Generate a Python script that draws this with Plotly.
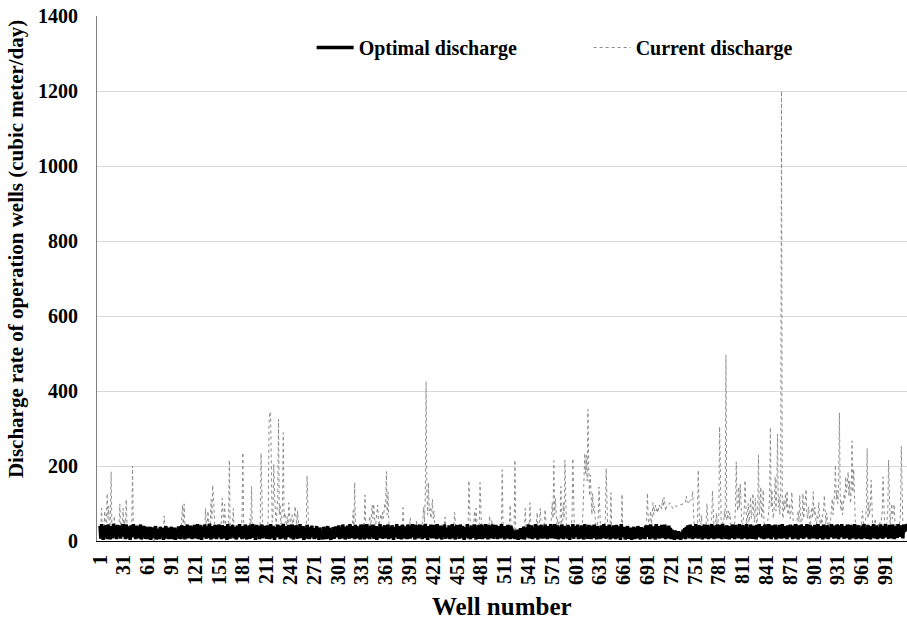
import plotly.graph_objects as go

# Well numbers 1..1020
wells = list(range(1, 1021))

# Current discharge (cubic meter/day), wells 1..1020 (rows of 30)
current_discharge = [
    20, 35, 87, 25, 40, 15, 80, 30, 45, 127, 60, 93, 20, 50, 185, 30, 40, 10, 67, 25, 35, 15, 40, 20, 45, 99, 30, 50, 25, 87,
    40, 55, 30, 111, 45, 20, 35, 10, 30, 25, 40, 200, 30, 15, 35, 20, 10, 25, 30, 15, 20, 35, 10, 25, 15, 30, 20, 10, 25, 15,
    10, 20, 5, 25, 15, 30, 10, 20, 0, 15, 25, 10, 20, 5, 30, 15, 20, 10, 25, 30, 40, 67, 35, 20, 10, 25, 15, 30, 10, 20,
    25, 15, 30, 10, 20, 35, 15, 25, 10, 30, 20, 40, 25, 50, 96, 45, 99, 40, 30, 15, 25, 35, 10, 20, 30, 15, 25, 40, 20, 30,
    15, 35, 20, 40, 25, 10, 30, 45, 20, 35, 15, 40, 30, 87, 45, 30, 80, 35, 20, 50, 111, 60, 149, 120, 40, 25, 35, 15, 30, 20,
    25, 40, 30, 55, 114, 50, 35, 98, 45, 20, 35, 25, 50, 216, 40, 30, 20, 45, 87, 30, 15, 35, 25, 40, 20, 30, 45, 25, 35, 60,
    236, 50, 30, 20, 40, 25, 35, 15, 30, 60, 40, 145, 35, 20, 30, 45, 25, 15, 35, 20, 30, 40, 50, 234, 45, 30, 20, 35, 40, 25,
    40, 30, 60, 310, 345, 340, 90, 50, 70, 205, 127, 60, 40, 80, 110, 324, 70, 98, 45, 60, 90, 289, 60, 76, 50, 40, 65, 45, 102, 55,
    40, 60, 70, 45, 55, 65, 93, 50, 40, 80, 45, 25, 35, 20, 30, 15, 25, 35, 20, 30, 40, 174, 30, 20, 35, 15, 25, 10, 30, 20,
    15, 30, 10, 25, 20, 35, 15, 5, 25, 30, 10, 20, 35, 15, 25, 10, 30, 20, 5, 25, 15, 35, 20, 10, 30, 15, 25, 35, 20, 10,
    25, 15, 30, 10, 20, 35, 15, 25, 10, 30, 20, 35, 15, 25, 40, 20, 30, 45, 35, 81, 40, 156, 35, 25, 40, 20, 30, 45, 25, 35,
    40, 25, 50, 35, 123, 40, 30, 45, 25, 50, 67, 40, 55, 96, 60, 99, 45, 30, 55, 70, 96, 50, 40, 60, 72, 55, 76, 60, 80, 99,
    90, 185, 70, 131, 50, 35, 20, 40, 25, 15, 30, 20, 35, 10, 25, 40, 20, 30, 15, 35, 45, 30, 89, 35, 20, 30, 15, 25, 35, 20,
    30, 62, 25, 40, 15, 30, 20, 35, 25, 55, 30, 15, 35, 20, 40, 25, 45, 60, 91, 50, 120, 425, 130, 70, 156, 80, 90, 60, 75, 111,
    60, 80, 40, 25, 35, 15, 30, 20, 10, 25, 35, 15, 30, 20, 40, 64, 30, 15, 25, 35, 10, 30, 20, 35, 15, 25, 40, 76, 30, 20,
    35, 15, 25, 40, 20, 30, 10, 25, 35, 20, 30, 15, 40, 25, 45, 161, 40, 25, 35, 20, 45, 35, 80, 40, 87, 30, 20, 45, 35, 156,
    40, 25, 35, 15, 30, 20, 40, 25, 35, 45, 30, 67, 40, 30, 56, 25, 35, 15, 30, 20, 35, 10, 25, 40, 20, 30, 50, 190, 40, 25,
    35, 20, 30, 15, 40, 25, 45, 96, 40, 20, 30, 15, 40, 216, 30, 20, 10, 25, 15, 30, 20, 35, 10, 25, 40, 30, 87, 40, 25, 35,
    50, 40, 102, 45, 30, 20, 35, 25, 40, 30, 45, 76, 35, 40, 55, 87, 40, 30, 20, 35, 45, 84, 40, 25, 30, 15, 35, 20, 40, 60,
    102, 60, 214, 70, 114, 50, 35, 60, 40, 25, 55, 146, 40, 30, 102, 60, 216, 45, 30, 20, 35, 25, 40, 30, 45, 60, 220, 40, 25, 35,
    20, 35, 15, 30, 25, 40, 20, 35, 50, 90, 150, 234, 180, 229, 160, 351, 200, 120, 176, 90, 70, 127, 80, 93, 50, 40, 30, 45, 60, 144,
    40, 25, 35, 20, 30, 45, 35, 60, 194, 40, 25, 35, 15, 40, 129, 30, 20, 35, 10, 25, 15, 30, 20, 35, 10, 25, 40, 30, 125, 20,
    35, 15, 25, 10, 30, 20, 35, 15, 25, 5, 30, 20, 10, 25, 35, 15, 30, 20, 10, 25, 35, 20, 30, 15, 25, 40, 20, 30, 45, 60,
    128, 60, 40, 50, 80, 45, 60, 102, 70, 85, 96, 80, 90, 75, 85, 96, 90, 95, 85, 111, 95, 116, 100, 80, 92, 95, 94, 96, 102, 98,
    95, 90, 87, 92, 93, 94, 92, 93, 94, 95, 96, 96, 97, 97, 98, 99, 99, 100, 102, 120, 104, 105, 99, 106, 108, 110, 112, 133, 60, 40,
    30, 45, 25, 40, 189, 35, 20, 30, 69, 40, 25, 35, 15, 30, 45, 100, 40, 25, 35, 20, 45, 60, 134, 40, 30, 20, 45, 75, 35, 50,
    70, 305, 60, 45, 30, 50, 40, 80, 60, 496, 55, 70, 80, 60, 75, 45, 30, 40, 25, 35, 45, 90, 211, 100, 80, 144, 90, 153, 70, 50,
    40, 60, 80, 162, 70, 45, 60, 100, 50, 70, 118, 60, 80, 127, 70, 50, 113, 45, 30, 80, 229, 70, 90, 144, 60, 80, 136, 50, 40, 30,
    45, 35, 60, 80, 120, 303, 90, 136, 70, 60, 100, 171, 80, 130, 285, 90, 118, 70, 140, 1200, 80, 60, 109, 80, 127, 90, 134, 70, 80, 100,
    60, 80, 131, 70, 40, 30, 45, 25, 40, 60, 80, 50, 122, 70, 40, 60, 127, 60, 80, 100, 138, 70, 60, 91, 50, 40, 70, 90, 60, 131,
    70, 90, 60, 45, 70, 60, 104, 50, 35, 60, 45, 70, 80, 122, 60, 45, 75, 40, 30, 50, 40, 60, 80, 113, 70, 100, 130, 203, 110, 136,
    100, 150, 342, 120, 80, 109, 70, 90, 127, 110, 171, 130, 150, 184, 120, 160, 100, 140, 267, 130, 191, 80, 50, 35, 45, 25, 40, 30, 45, 35,
    50, 80, 40, 30, 45, 60, 90, 247, 60, 104, 70, 90, 162, 50, 35, 45, 30, 60, 40, 25, 35, 45, 30, 50, 40, 60, 80, 171, 50, 35,
    45, 30, 55, 80, 216, 60, 40, 70, 100, 60, 80, 98, 50, 35, 45, 30, 40, 25, 50, 70, 253, 60, 40, 30, 45, 35, 25, 40, 30, 45,
]

# Optimal discharge (cubic meter/day), wells 1..1020 (rows of 30)
optimal_discharge = [
    40, 6, 45, 18, 3, 38, 12, 42, 22, 5, 44, 15, 35, 4, 40, 26, 7, 46, 20, 10, 38, 5, 43, 28, 12, 41, 6, 36, 22, 45,
    12, 40, 5, 44, 24, 7, 39, 18, 3, 42, 32, 10, 45, 15, 30, 5, 41, 23, 7, 37, 20, 44, 4, 33, 12, 40, 25, 6, 38, 16,
    5, 35, 10, 38, 3, 30, 16, 36, 7, 25, 40, 4, 33, 14, 28, 5, 38, 11, 20, 35, 3, 30, 12, 40, 7, 25, 36, 5, 32, 18,
    38, 5, 28, 11, 36, 3, 32, 20, 7, 39, 15, 30, 5, 42, 23, 10, 40, 4, 35, 18, 44, 7, 30, 12, 41, 20, 5, 37, 11, 43,
    7, 40, 18, 45, 5, 33, 15, 42, 3, 38, 24, 10, 44, 19, 6, 39, 28, 8, 46, 22, 4, 40, 14, 36, 7, 43, 26, 5, 41, 16,
    44, 10, 36, 5, 42, 23, 7, 40, 15, 30, 3, 45, 20, 35, 6, 39, 12, 43, 26, 7, 37, 18, 4, 41, 24, 10, 45, 15, 33, 5,
    40, 20, 7, 44, 28, 4, 38, 12, 42, 6, 35, 22, 45, 8, 39, 16, 3, 43, 25, 11, 41, 5, 36, 19, 44, 7, 30, 14, 40, 23,
    6, 42, 15, 36, 5, 45, 24, 8, 40, 18, 3, 38, 27, 10, 44, 14, 35, 5, 41, 21, 7, 46, 16, 33, 4, 40, 26, 11, 43, 19,
    36, 7, 44, 18, 4, 39, 11, 42, 25, 6, 37, 20, 45, 8, 32, 15, 40, 3, 35, 22, 7, 43, 12, 38, 5, 30, 18, 41, 10, 24,
    5, 34, 14, 40, 7, 28, 3, 36, 11, 30, 20, 4, 38, 10, 32, 5, 24, 40, 7, 35, 15, 3, 30, 18, 37, 6, 22, 39, 10, 33,
    12, 42, 5, 36, 22, 7, 44, 15, 38, 4, 30, 10, 41, 20, 6, 45, 26, 8, 40, 18, 35, 5, 43, 14, 25, 7, 39, 23, 4, 44,
    30, 10, 43, 4, 36, 19, 45, 7, 38, 15, 5, 41, 24, 11, 44, 6, 33, 18, 40, 3, 37, 21, 8, 45, 12, 39, 6, 34, 20, 42,
    7, 40, 15, 44, 5, 35, 23, 8, 42, 16, 3, 38, 26, 10, 45, 19, 6, 40, 12, 36, 4, 43, 22, 7, 39, 14, 30, 5, 44, 18,
    41, 6, 36, 20, 45, 10, 30, 4, 43, 15, 39, 7, 25, 44, 12, 35, 5, 42, 22, 8, 46, 16, 33, 3, 40, 24, 11, 44, 7, 37,
    8, 43, 18, 38, 5, 45, 14, 32, 7, 41, 22, 4, 39, 11, 44, 19, 6, 36, 26, 10, 42, 5, 34, 16, 45, 7, 40, 21, 4, 38,
    42, 12, 35, 6, 44, 23, 8, 40, 16, 3, 37, 26, 11, 45, 7, 33, 19, 5, 41, 14, 38, 8, 44, 22, 4, 36, 15, 42, 6, 30,
    15, 44, 5, 39, 20, 8, 45, 12, 35, 4, 42, 25, 7, 38, 18, 44, 6, 31, 11, 43, 22, 5, 40, 15, 36, 7, 45, 19, 10, 39,
    4, 40, 22, 7, 43, 14, 36, 5, 41, 18, 32, 7, 28, 5, 24, 11, 30, 3, 26, 7, 34, 5, 22, 12, 38, 4, 28, 10, 36, 18,
    44, 7, 37, 16, 42, 5, 35, 23, 8, 45, 15, 30, 4, 41, 20, 10, 43, 6, 38, 24, 7, 44, 12, 33, 5, 40, 19, 8, 45, 15,
    7, 39, 20, 45, 6, 34, 14, 42, 4, 37, 24, 8, 44, 18, 5, 40, 11, 36, 26, 7, 43, 15, 3, 38, 22, 10, 45, 6, 32, 18,
    40, 10, 44, 5, 36, 21, 7, 42, 15, 31, 4, 45, 12, 38, 23, 6, 43, 16, 35, 5, 41, 25, 8, 44, 11, 37, 4, 40, 20, 7,
    36, 5, 42, 18, 8, 45, 14, 33, 6, 40, 23, 10, 44, 4, 38, 19, 7, 42, 12, 35, 5, 43, 26, 8, 39, 15, 3, 45, 20, 30,
    10, 38, 4, 32, 15, 40, 6, 28, 20, 36, 3, 30, 11, 38, 5, 24, 34, 7, 40, 12, 29, 4, 37, 18, 7, 35, 22, 5, 41, 15,
    42, 11, 36, 5, 44, 20, 7, 39, 15, 33, 4, 45, 24, 10, 40, 6, 37, 18, 43, 8, 30, 12, 44, 5, 38, 22, 7, 41, 16, 35,
    5, 30, 12, 25, 3, 28, 7, 22, 5, 26, 10, 20, 3, 24, 7, 30, 15, 34, 5, 38, 11, 42, 18, 7, 44, 14, 36, 5, 40, 23,
    8, 45, 16, 38, 6, 42, 22, 10, 40, 4, 35, 19, 44, 7, 33, 14, 43, 5, 39, 24, 8, 45, 11, 37, 5, 41, 20, 7, 44, 15,
    38, 7, 43, 18, 5, 45, 12, 36, 22, 6, 42, 15, 34, 4, 40, 25, 8, 44, 16, 31, 5, 43, 20, 10, 39, 7, 45, 14, 35, 5,
    42, 20, 8, 40, 14, 45, 5, 36, 23, 7, 44, 16, 33, 6, 41, 11, 38, 4, 43, 24, 10, 45, 15, 30, 7, 40, 19, 5, 44, 12,
    7, 39, 22, 45, 8, 35, 5, 42, 15, 30, 10, 44, 4, 37, 20, 7, 43, 12, 38, 6, 45, 23, 8, 40, 16, 34, 5, 42, 18, 10,
    44, 14, 33, 5, 41, 21, 7, 45, 11, 38, 4, 42, 25, 8, 44, 15, 32, 6, 40, 19, 10, 45, 12, 36, 5, 43, 23, 7, 39, 18,
    7, 43, 16, 36, 5, 45, 20, 8, 40, 12, 34, 4, 44, 24, 7, 38, 15, 42, 5, 35, 21, 10, 45, 14, 39, 6, 41, 18, 8, 44,
    37, 5, 42, 22, 10, 45, 12, 33, 6, 40, 18, 8, 44, 15, 36, 4, 43, 25, 7, 39, 11, 45, 19, 5, 38, 14, 42, 7, 35, 22,
    5, 41, 15, 45, 8, 34, 20, 6, 43, 12, 38, 4, 40, 24, 10, 45, 7, 31, 18, 42, 5, 37, 22, 8, 44, 15, 35, 6, 40, 20,
    45, 10, 38, 18, 6, 43, 14, 36, 7, 44, 23, 5, 40, 16, 33, 8, 45, 20, 11, 42, 15, 38, 7, 44, 24, 40, 28, 45, 36, 44,
]

x_tick_values = list(range(1, 1021, 30))
y_tick_values = [0, 200, 400, 600, 800, 1000, 1200, 1400]

SERIF = "Liberation Serif, Times New Roman, serif"

fig = go.Figure()
fig.add_trace(go.Scatter(
    x=wells, y=current_discharge, mode="lines", name="Current discharge",
    line=dict(color="#8a8a8a", width=1, dash="dot"), legendrank=2,
))
fig.add_trace(go.Scatter(
    x=wells, y=optimal_discharge, mode="lines", name="Optimal discharge",
    line=dict(color="#000000", width=3.5), legendrank=1,
))

fig.update_layout(
    width=907, height=626,
    margin=dict(l=97, r=0, t=16, b=85),
    plot_bgcolor="white", paper_bgcolor="white",
    font=dict(family=SERIF, color="black"),
    showlegend=True,
    legend=dict(
        orientation="h", x=0.265, y=0.94, xanchor="left", yanchor="middle",
        font=dict(family=SERIF, size=20, weight="bold", color="black"),
        entrywidth=225, itemwidth=37, bgcolor="rgba(0,0,0,0)",
        tracegroupgap=0,
    ),
    xaxis=dict(
        range=[-2.8, 1018.2], tickmode="array", tickvals=x_tick_values,
        ticktext=[str(v) for v in x_tick_values], tickangle=-90,
        tickfont=dict(family=SERIF, size=20, weight="bold", color="black"),
        showgrid=False, zeroline=False, showline=True, linecolor="black", linewidth=1,
        ticks="", ticklabelstandoff=5,
    ),
    yaxis=dict(
        range=[0, 1400], tickmode="array", tickvals=y_tick_values,
        tickfont=dict(family=SERIF, size=20, weight="bold", color="black"),
        showgrid=True, gridcolor="#d9d9d9", gridwidth=1, zeroline=False,
        showline=True, linecolor="#7f7f7f", linewidth=1, ticks="", ticklabelstandoff=14,
    ),
    annotations=[
        dict(text="Well number", xref="paper", yref="paper", x=0.5, y=-0.1257,
             xanchor="center", yanchor="middle", showarrow=False,
             font=dict(family=SERIF, size=25, weight="bold", color="black")),
        dict(text="Discharge rate of operation wells (cubic meter/day)", xref="paper", yref="paper",
             x=-0.1, y=0.556, xanchor="center", yanchor="middle", textangle=-90, showarrow=False,
             font=dict(family=SERIF, size=21, weight="bold", color="black")),
    ],
)

fig.write_html("out.html")
